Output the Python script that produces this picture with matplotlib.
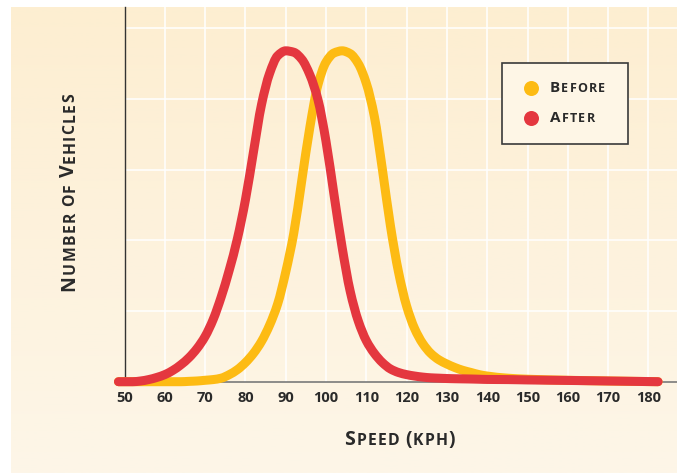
import numpy as np
import matplotlib
matplotlib.use("Agg")
import matplotlib.pyplot as plt
from matplotlib.patches import Rectangle, PathPatch
from matplotlib.lines import Line2D
from matplotlib.path import Path

# speeds (kph) sampled along the curves
speed = [48.5, 50, 52, 54, 56, 58, 60, 62, 64, 66, 68, 70, 72, 74, 76, 78, 80,
         82, 84, 86, 88, 90, 92, 94, 96, 98, 100, 102, 104, 106, 108, 110, 112,
         114, 116, 118, 120, 122, 124, 126, 128, 130, 132, 134, 136, 138, 140,
         145, 150, 160, 170, 182.4]

after = [0.0, 0.0, 0.0, 0.01, 0.03, 0.06, 0.10, 0.16, 0.24, 0.34, 0.47, 0.64,
         0.88, 1.20, 1.58, 2.02, 2.57, 3.25, 3.92, 4.36, 4.61, 4.68, 4.66, 4.56,
         4.34, 3.99, 3.40, 2.64, 1.90, 1.28, 0.86, 0.58, 0.40, 0.27, 0.18, 0.13,
         0.10, 0.08, 0.065, 0.055, 0.05, 0.045, 0.042, 0.04, 0.038, 0.035, 0.032,
         0.03, 0.025, 0.018, 0.01, 0.0]

before = [0.0, 0.0, 0.0, 0.0, 0.0, 0.0, 0.0, 0.0, 0.0, 0.005, 0.01, 0.02, 0.03,
          0.05, 0.10, 0.17, 0.27, 0.40, 0.57, 0.80, 1.10, 1.55, 2.10, 2.85, 3.60,
          4.20, 4.52, 4.65, 4.68, 4.64, 4.50, 4.22, 3.75, 3.00, 2.20, 1.55, 1.07,
          0.75, 0.54, 0.40, 0.31, 0.25, 0.20, 0.16, 0.13, 0.10, 0.08, 0.05, 0.035,
          0.02, 0.01, 0.0]

xticks = list(range(50, 190, 10))
series_names = ["Before", "After"]
series_colors = ["#fdbb13", "#e4373f"]

TXT = "#2a2a2a"
FONT = "Open Sans"
W, H = 677, 473

fig = plt.figure(figsize=(W / 100, H / 100), dpi=100, facecolor="white")

# cream panel with a soft vertical gradient
bg = fig.add_axes([11 / W, 0, 1 - 11 / W, 466 / H], zorder=-5)
top = np.array([0xfd, 0xee, 0xd1]) / 255
bot = np.array([0xfd, 0xf6, 0xe8]) / 255
t = np.linspace(0, 1, 200)[:, None]
grad = (top * (1 - t) + bot * t)[:, None, :]
bg.imshow(grad, aspect="auto", extent=[0, 1, 0, 1])
bg.axis("off")

ax = fig.add_axes([124.5 / W, (H - 381.7) / H, 1 - 124.5 / W, (381.7 - 7) / H])
ax.set_facecolor("none")
ax.set_xlim(50, 50 + (W - 124.5) / 4.03)
ax.set_ylim(0, (381.7 - 7) / 70.7)

ax.set_xticks(xticks)
ax.set_yticks([1, 2, 3, 4, 5])
ax.set_yticklabels([])
ax.grid(True, color="white", lw=1.1)
ax.set_axisbelow(True)
ax.tick_params(axis="both", length=0)
ax.tick_params(axis="x", pad=7, labelsize=10.5, labelcolor=TXT)
for lab in ax.get_xticklabels():
    lab.set_fontfamily(FONT)
    lab.set_fontweight("bold")

for s in ["top", "right"]:
    ax.spines[s].set_visible(False)
ax.spines["left"].set_color("#333333")
ax.spines["left"].set_linewidth(1.0)
ax.spines["bottom"].set_color("#7a7a7a")
ax.spines["bottom"].set_linewidth(1.2)


def smooth_path(x, y):
    # monotone cubic (Fritsch-Carlson) drawn as bezier segments through the points
    x = np.asarray(x, float)
    y = np.asarray(y, float)
    h = np.diff(x)
    d = np.diff(y) / h
    m = np.zeros_like(y)
    m[0], m[-1] = d[0], d[-1]
    for i in range(1, len(x) - 1):
        if d[i - 1] * d[i] <= 0:
            m[i] = 0
        else:
            w1 = 2 * h[i] + h[i - 1]
            w2 = h[i] + 2 * h[i - 1]
            m[i] = (w1 + w2) / (w1 / d[i - 1] + w2 / d[i])
    verts = [(x[0], y[0])]
    codes = [Path.MOVETO]
    for i in range(len(x) - 1):
        verts += [(x[i] + h[i] / 3, y[i] + m[i] * h[i] / 3),
                  (x[i + 1] - h[i] / 3, y[i + 1] - m[i + 1] * h[i] / 3),
                  (x[i + 1], y[i + 1])]
        codes += [Path.CURVE4] * 3
    return Path(verts, codes)


for vals, col, z in [(before, series_colors[0], 3), (after, series_colors[1], 4)]:
    pp = PathPatch(smooth_path(speed, vals), facecolor="none", edgecolor=col,
                   lw=6.5, capstyle="round", joinstyle="round", clip_on=False,
                   zorder=z)
    ax.add_patch(pp)


def smallcaps(x, y, text, big, small, rot=0, track=1.0, space=5, z=8):
    # fake small caps, one glyph at a time so letter spacing can be added
    kw = dict(color=TXT, fontfamily=FONT, fontweight="bold", rotation=rot,
              rotation_mode="anchor", ha="left", va="baseline",
              annotation_clip=False, zorder=z)
    prev = None
    gap = 0
    for ch in text:
        if ch == " ":
            gap += space
            continue
        size = big if (ch.isupper() or not ch.isalpha()) else small
        if prev is None:
            prev = ax.annotate(ch.upper(), xy=(x, y), xycoords="figure pixels",
                               fontsize=size, **kw)
        else:
            if rot == 0:
                xyc, xy, off = (prev, "figure pixels"), (1, y), (gap + track, 0)
            else:
                xyc, xy, off = ("figure pixels", prev), (x, 1), (0, gap + track)
            prev = ax.annotate(ch.upper(), xy=xy, xycoords=xyc, xytext=off,
                               textcoords="offset pixels", fontsize=size, **kw)
        gap = 0
    return prev


smallcaps(344, H - 445, "Speed (kph)", 14.0, 11.3, track=1.25)
smallcaps(74.3, H - 290.7, "Number of Vehicles", 14.0, 11.3, rot=90, track=1.25)

# legend box
ax.add_patch(Rectangle((502, H - 144), 126, 81, transform=None,
                       facecolor="#fef6e6", edgecolor="#3a3a3a", lw=1.2,
                       zorder=6, clip_on=False))
for i, (name, col) in enumerate(zip(series_names, series_colors)):
    yy = [88.3, 118.3][i]
    ax.add_line(Line2D([530.7], [H - yy], transform=None, marker="o",
                       markersize=10.8, color=col, markeredgewidth=0,
                       zorder=7, clip_on=False))
    smallcaps(550, H - yy - 4.0, name, 11.0, 9.0, track=1.2)

fig.savefig("out.png", dpi=100, facecolor=fig.get_facecolor())
